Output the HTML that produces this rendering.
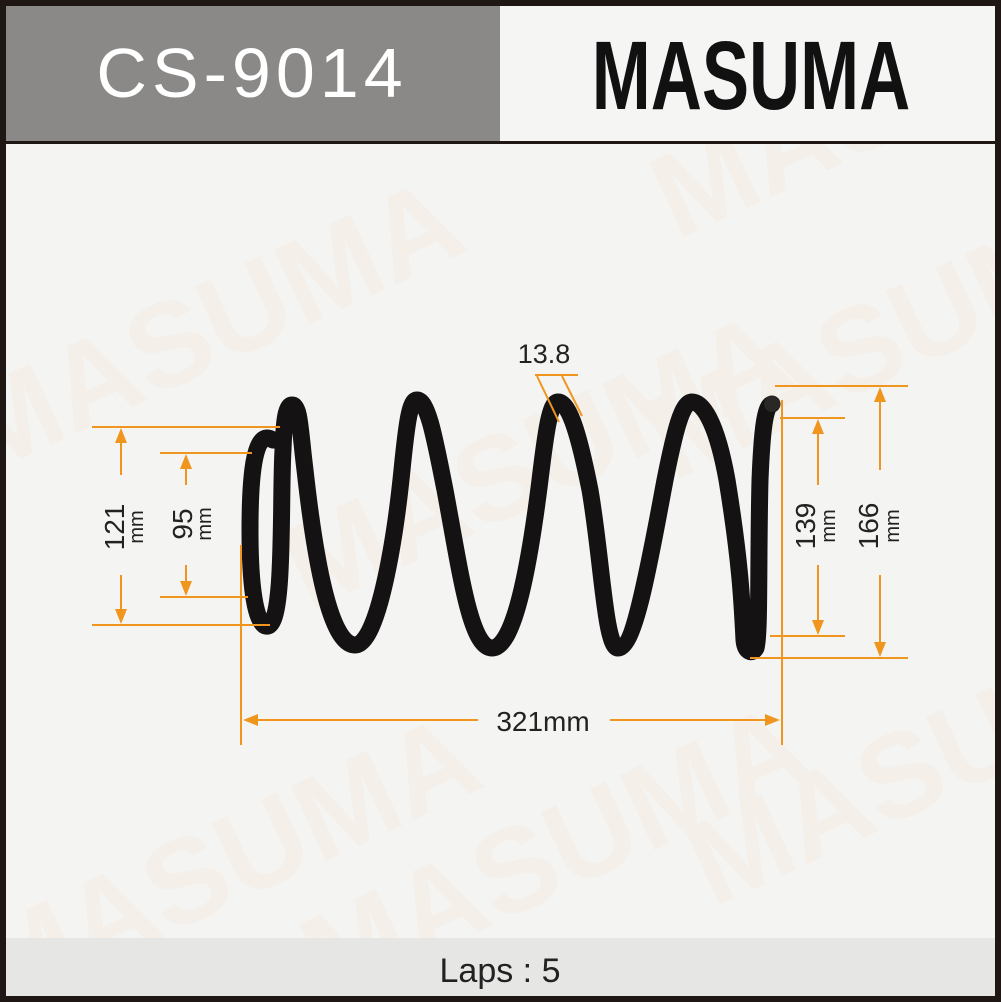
<!DOCTYPE html>
<html><head><meta charset="utf-8"><style>
html,body{margin:0;padding:0}
body{width:1001px;height:1002px;position:relative;overflow:hidden;background:#1e1714;font-family:"Liberation Sans",sans-serif}
.in{position:absolute;left:6px;top:6px;width:989px;height:990px;background:#f4f4f3;overflow:hidden}
</style></head><body>
<div class="in">
<svg width="989" height="990" viewBox="6 6 989 990" style="position:absolute;left:0;top:0">
 <g fill="#f3e6d6" opacity="0.35" font-weight="bold" font-size="120" font-family="Liberation Sans">
  <text x="-40" y="420" transform="rotate(-25 100 400)">MASUMA</text>
  <text x="280" y="520" transform="rotate(-25 500 500)">MASUMA</text>
  <text x="650" y="420" transform="rotate(-25 800 400)">MASUMA</text>
  <text x="-40" y="960" transform="rotate(-25 100 900)">MASUMA</text>
  <text x="300" y="920" transform="rotate(-25 500 900)">MASUMA</text>
  <text x="680" y="840" transform="rotate(-25 850 800)">MASUMA</text>
  <text x="650" y="180" transform="rotate(-25 800 150)">MASUMA</text>
 </g>
 <rect x="6" y="6" width="494" height="136" fill="#8a8987"/>
 <rect x="500" y="6" width="495" height="136" fill="#f5f5f4"/>
 <rect x="6" y="141" width="989" height="3" fill="#1e1714"/>
 <rect x="6" y="938" width="989" height="58" fill="#e6e6e5"/>
 <text x="252" y="97" fill="#fff" font-size="70" text-anchor="middle" letter-spacing="5">CS-9014</text>
 <text x="0" y="0" fill="#111" font-size="97" font-weight="bold" text-anchor="middle" transform="translate(751,109) scale(0.73,1)">MASUMA</text>
 <text x="500" y="982" fill="#222" font-size="34" text-anchor="middle">Laps : 5</text>

 <path d="M273,440 C255,428 250,470 250,530 C250,600 258,628 268,626 C285,622 280,500 283,450 C284,420 286,405 292,405 C300,405 300,430 305,470 C315,560 330,645 355,645 C378,645 395,540 402,470 C407,420 410,400 417,400 C428,400 435,440 445,490 C460,570 470,648 492,648 C515,648 530,560 540,480 C546,430 550,402 558,402 C570,402 580,440 590,490 C602,560 605,648 618,648 C635,648 650,560 665,480 C675,430 682,402 692,402 C705,402 718,430 727,480 C740,560 742,600 744,640 C745,652 752,655 756,648 C760,635 758,560 760,480 C762,430 765,405 772,404" fill="none" stroke="#141212" stroke-width="17" stroke-linecap="round"/>
 <circle cx="772" cy="404" r="8" fill="#2a2826"/>

 <g stroke="#f0961e" stroke-width="2" fill="none">
  <line x1="92" y1="427" x2="280" y2="427"/><line x1="92" y1="625" x2="270" y2="625"/>
  <line x1="121" y1="440" x2="121" y2="475"/><line x1="121" y1="575" x2="121" y2="612"/>
  <line x1="160" y1="453" x2="252" y2="453"/><line x1="160" y1="597" x2="248" y2="597"/>
  <line x1="186" y1="466" x2="186" y2="485"/><line x1="186" y1="565" x2="186" y2="584"/>
  <line x1="780" y1="418" x2="845" y2="418"/><line x1="770" y1="636" x2="845" y2="636"/>
  <line x1="818" y1="431" x2="818" y2="485"/><line x1="818" y1="565" x2="818" y2="623"/>
  <line x1="775" y1="386" x2="908" y2="386"/><line x1="750" y1="658" x2="908" y2="658"/>
  <line x1="880" y1="399" x2="880" y2="470"/><line x1="880" y1="575" x2="880" y2="645"/>
  <line x1="241" y1="545" x2="241" y2="745"/><line x1="782" y1="400" x2="782" y2="745"/>
  <line x1="256" y1="720" x2="478" y2="720"/><line x1="610" y1="720" x2="769" y2="720"/>
  <line x1="535" y1="375" x2="578" y2="375"/>
  <line x1="537" y1="376" x2="559" y2="422"/><line x1="562" y1="376" x2="582" y2="416"/>
 </g>
 <g fill="#f0961e">
  <polygon points="121,428 115,443 127,443"/><polygon points="121,624 115,609 127,609"/>
  <polygon points="186,454 180,469 192,469"/><polygon points="186,596 180,581 192,581"/>
  <polygon points="818,419 812,434 824,434"/><polygon points="818,635 812,620 824,620"/>
  <polygon points="880,387 874,402 886,402"/><polygon points="880,657 874,642 886,642"/>
  <polygon points="243,720 258,714 258,726"/><polygon points="780,720 765,714 765,726"/>
 </g>
 <g fill="#222" font-size="28" text-anchor="middle">
  <text x="544" y="363" font-size="27">13.8</text>
  <text x="543" y="731">321mm</text>
  <text transform="translate(124,527) rotate(-90)">121</text>
  <text transform="translate(143,527) rotate(-90)" font-size="20">mm</text>
  <text transform="translate(192,524) rotate(-90)">95</text>
  <text transform="translate(211,524) rotate(-90)" font-size="20">mm</text>
  <text transform="translate(815,526) rotate(-90)">139</text>
  <text transform="translate(835,526) rotate(-90)" font-size="20">mm</text>
  <text transform="translate(878,526) rotate(-90)">166</text>
  <text transform="translate(899,526) rotate(-90)" font-size="20">mm</text>
 </g>
</svg>
</div>
</body></html>
